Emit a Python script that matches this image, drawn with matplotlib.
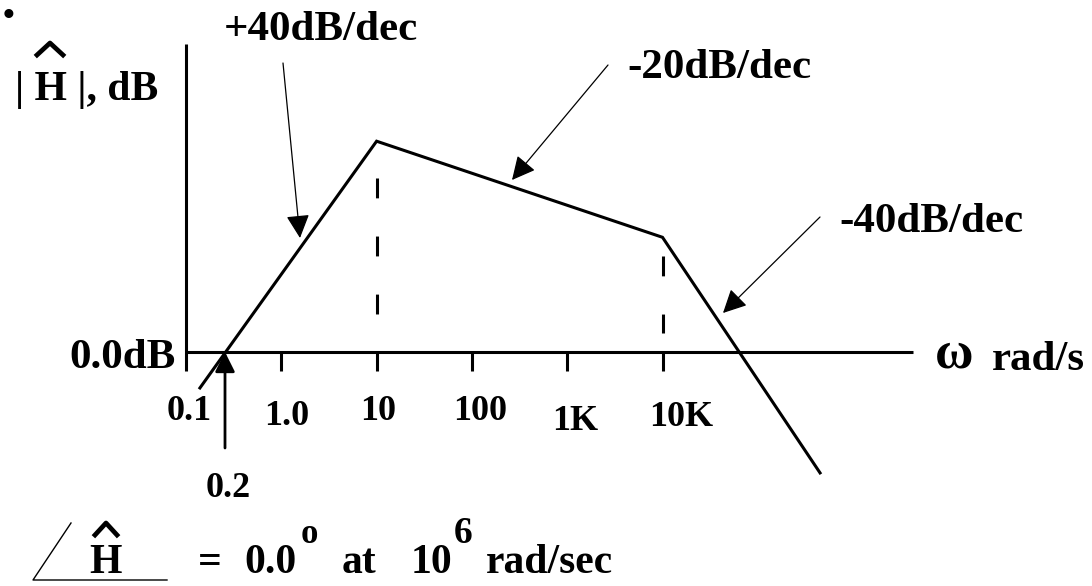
import matplotlib
matplotlib.use("Agg")
import numpy as np
import matplotlib.pyplot as plt
from matplotlib.lines import Line2D

# asymptotic magnitude sketch (rad/s, dB)
corner_w = [0.14, 10, 1e4, 4.5e5]
corner_db = [-11.6, 68, 37, -39]

decade_ticks = [0.1, 1, 10, 100, 1e3, 1e4]
tick_labels = ["0.1", "1.0", "10", "100", "1K", "10K"]
tick_label_x = [189, 287, 378, 480, 575, 681]
tick_label_base = [420, 425, 420, 420, 430, 426]   # uneven in the hand-drawn original

dashed_w = [10, 1e4]
dashed_top = [56, 31]
dashed_bottom = [12, 6]

slope_labels = ["+40dB/dec", "-20dB/dec", "-40dB/dec"]

W, H = 1092, 586
PX_PER_DEC = 95.3
PX_PER_DB = 3.10
X0, Y0 = 186, 352     # pixel position of (0.1 rad/s, 0 dB)

font = {"family": "Liberation Serif", "weight": "bold", "color": "black"}


def fp(x, y):
    # pixel position in the reference -> figure fraction
    return x / W, 1 - y / H


def label(x, y, s, size, ha="left"):
    fig.text(*fp(x, y), s, ha=ha, va="baseline", fontsize=size, fontdict=font)


def hat(cx, top, half, depth):
    fig.add_artist(Line2D([fp(cx - half, 0)[0], fp(cx, 0)[0], fp(cx + half, 0)[0]],
                          [fp(0, top + depth)[1], fp(0, top)[1], fp(0, top + depth)[1]],
                          color="black", lw=3.4, transform=fig.transFigure))


fig = plt.figure(figsize=(W / 100, H / 100), dpi=100)
ax = fig.add_axes([0, 0, 1, 1])
ax.set_xscale("log")
ax.set_xlim(10 ** (-1 - X0 / PX_PER_DEC), 10 ** (-1 + (W - X0) / PX_PER_DEC))
ax.set_ylim(-(H - Y0) / PX_PER_DB, Y0 / PX_PER_DB)
ax.axis("off")

# axes
ax.plot([0.1, 4.3e6], [0, 0], color="black", lw=2.2, solid_capstyle="butt")
ax.plot([0.1, 0.1], [-6.2, 99.5], color="black", lw=2.2, solid_capstyle="butt")
for w in decade_ticks[1:]:
    ax.plot([w, w], [0, -6.2], color="black", lw=2.2, solid_capstyle="butt")

# magnitude curve
ax.plot(corner_w, corner_db, color="black", lw=2.2, solid_joinstyle="miter")

# dashed guides at the corners
for w, top, bot in zip(dashed_w, dashed_top, dashed_bottom):
    ax.plot([w, w], [top, bot], color="black", lw=2.2, dashes=(6.5, 12.5))

# tick labels
for x, lab, by in zip(tick_label_x, tick_labels, tick_label_base):
    label(x, by, lab, 26, ha="center")

# slope arrows
arrow = dict(arrowstyle="-|>", color="black", lw=0.9, mutation_scale=36, shrinkA=0, shrinkB=0)
tips = [(300, 238), (512, 180), (723, 313)]
tails = [(283, 63), (608, 65), (820, 217)]
for (tx, ty), (sx, sy) in zip(tips, tails):
    ax.annotate("", xy=fp(tx, ty), xycoords="figure fraction",
                xytext=fp(sx, sy), textcoords="figure fraction", arrowprops=arrow)

label(224, 40, slope_labels[0], 31)
label(627, 78, slope_labels[1], 31)
label(839, 232, slope_labels[2], 31)

# 0.2 rad/s crossing marker
ax.annotate("", xy=fp(225, 352), xycoords="figure fraction",
            xytext=fp(225, 448), textcoords="figure fraction",
            arrowprops=dict(arrowstyle="-|>", color="black", lw=2, mutation_scale=30,
                            shrinkA=0, shrinkB=0))
label(228, 497, "0.2", 26, ha="center")

# axis labels
label(176, 368, "0.0dB", 31, ha="right")
label(935, 367, "\u03c9", 38)
label(992, 370, "rad/s", 31)

label(15, 100, "| H |, dB", 30)
hat(50, 43, 13, 12)
fig.text(*fp(9, 17), "\u2022", ha="center", va="center", fontsize=24, fontdict=font)

# phase note at the bottom
fig.add_artist(Line2D([fp(71, 0)[0], fp(33, 0)[0], fp(167, 0)[0]],
                      [fp(0, 523)[1], fp(0, 580)[1], fp(0, 580)[1]],
                      color="black", lw=1, transform=fig.transFigure))
label(106, 573, "H", 30, ha="center")
hat(106, 523, 11, 12)
label(198, 573, "=", 30)
label(244, 573, "0.0", 30)
label(301, 543, "o", 25)
label(342, 573, "at", 30)
label(411, 573, "10", 30)
label(454, 543, "6", 27)
label(486, 573, "rad/sec", 30)

fig.savefig("out.png", dpi=100)
